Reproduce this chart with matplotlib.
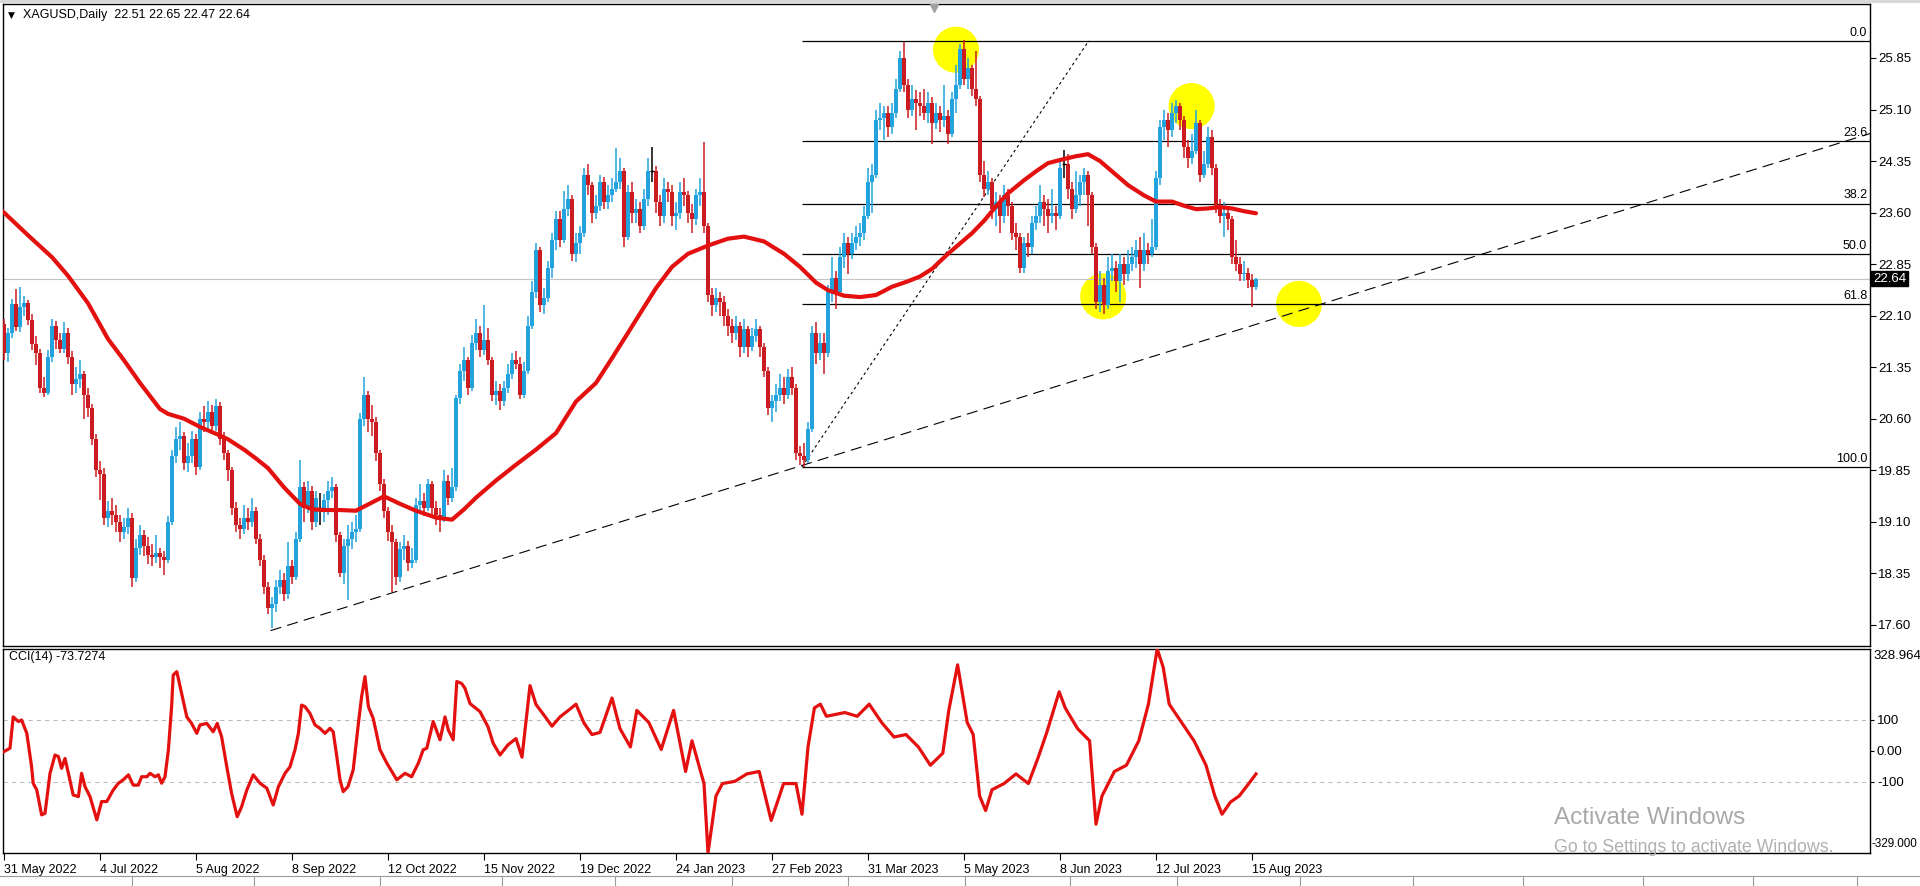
import matplotlib
matplotlib.use("Agg")
import matplotlib.pyplot as plt
import numpy as np
from matplotlib.lines import Line2D
from matplotlib.patches import Rectangle

plt.rcParams['font.family'] = ['Liberation Sans', 'DejaVu Sans']
plt.rcParams['lines.scale_dashes'] = False

# ---------------- data (daily bars, bar 0 = 31 May 2022) ----------------
opens = [
    21.98, 21.55, 21.84, 22.27, 21.93, 22.23, 22.28, 22.03, 21.69, 21.55,
    21.05, 20.98, 21.50, 21.95, 21.75, 21.62, 21.85, 21.50, 21.10, 21.18,
    21.25, 20.95, 20.75, 20.30, 19.85, 19.80, 19.15, 19.25, 19.20, 19.10,
    18.95, 19.02, 19.15, 18.28, 18.72, 18.90, 18.75, 18.62, 18.58, 18.65,
    18.58, 18.55, 19.10, 20.05, 20.30, 20.35, 19.95, 20.05, 20.30, 19.90,
    20.60, 20.55, 20.70, 20.50, 20.78, 20.30, 20.10, 19.85, 19.30, 19.05,
    19.00, 19.15, 19.10, 19.25, 18.85, 18.55, 18.15, 17.85, 17.90, 18.15,
    18.25, 18.05, 18.45, 18.30, 18.85, 19.60, 19.30, 19.55, 19.10, 19.30,
    19.30, 19.42, 19.55, 19.60, 18.90, 18.35, 18.75, 18.85, 18.95, 19.00,
    20.60, 20.95, 20.60, 20.55, 20.10, 19.65, 19.25, 18.95, 18.80, 18.30,
    18.70, 18.75, 18.50, 18.55, 19.35, 19.40, 19.30, 19.65, 19.30, 19.20,
    19.15, 19.70, 19.45, 19.60, 20.90, 21.30, 21.45, 21.05, 21.70, 21.85,
    21.60, 21.75, 21.45, 20.95, 21.00, 20.85, 21.05, 21.25, 21.45, 21.40,
    20.95, 21.30, 21.95, 22.45, 23.05, 22.25, 22.35, 22.80, 23.20, 23.50,
    23.20, 23.65, 23.80, 23.00, 23.15, 23.30, 24.15, 24.00, 23.60, 23.70,
    24.05, 23.75, 23.85, 23.95, 24.05, 24.20, 23.25, 23.90, 23.60, 23.65,
    23.40, 23.80, 24.20, 24.20, 23.75, 23.55, 23.95, 23.90, 23.55, 23.60,
    23.90, 23.85, 23.60, 23.50, 23.85, 23.90, 23.40, 22.40, 22.25, 22.35,
    22.30, 22.10, 21.95, 21.85, 21.95, 21.65, 21.90, 21.65, 21.80, 21.90,
    21.65, 21.30, 20.75, 20.85, 20.95, 21.05, 20.95, 21.20, 21.05, 20.10,
    20.05, 20.00, 20.45, 21.85, 21.55, 21.70, 21.55, 22.45, 22.65, 22.45,
    22.95, 23.15, 23.00, 23.15, 23.25, 23.30, 23.55, 24.05, 24.15, 24.95,
    24.98, 25.05, 24.85, 25.05, 25.40, 25.85, 25.45, 25.10, 25.25, 25.20,
    25.15, 25.05, 25.20, 24.90, 25.05, 24.95, 25.00, 24.75, 25.25, 25.45,
    25.98, 25.55, 25.70, 25.40, 25.25, 24.15, 23.95, 24.05, 23.65, 23.75,
    23.55, 23.85, 23.70, 23.30, 23.25, 22.80, 23.15, 23.10, 23.45, 23.55,
    23.75, 23.65, 23.55, 23.60, 23.55, 24.30, 24.30, 23.95, 23.65, 23.85,
    24.05, 24.15, 23.85, 23.10, 22.30, 22.55, 22.25, 22.75, 22.80, 22.60,
    22.85, 22.70, 22.85, 22.95, 23.05, 22.85, 23.05, 23.00, 23.10, 24.10,
    24.85, 24.95, 24.80, 25.05, 25.15, 24.95, 24.55, 24.40, 24.50, 24.90,
    24.15, 24.30, 24.70, 24.25, 23.70, 23.55, 23.60, 23.50, 22.95, 22.85,
    22.70, 22.72, 22.62, 22.51]

highs = [
    22.05, 21.92, 22.34, 22.49, 22.52, 22.38, 22.33, 22.12, 21.80, 21.62,
    21.20, 21.60, 22.05, 22.02, 21.85, 22.00, 21.92, 21.58, 21.35, 21.45,
    21.30, 21.05, 20.82, 20.38, 19.98, 19.88, 19.40, 19.45, 19.35, 19.20,
    19.15, 19.30, 19.22, 18.85, 19.05, 18.98, 18.88, 18.78, 18.90, 18.72,
    18.68, 19.18, 20.15, 20.48, 20.55, 20.40, 20.25, 20.42, 20.38, 20.70,
    20.78, 20.85, 20.80, 20.88, 20.84, 20.40, 20.15, 19.90, 19.38, 19.15,
    19.35, 19.30, 19.45, 19.32, 18.92, 18.62, 18.22, 18.00, 18.25, 18.40,
    18.35, 18.80, 18.55, 18.95, 20.00, 19.68, 19.70, 19.62, 19.55, 19.52,
    19.50, 19.70, 19.75, 19.65, 18.95, 18.85, 19.05, 19.10, 19.20, 20.68,
    21.21, 21.00, 20.80, 20.62, 20.15, 19.72, 19.32, 19.05, 18.85, 18.80,
    18.90, 18.82, 18.72, 19.45, 19.65, 19.52, 19.72, 19.70, 19.40, 19.30,
    19.85, 19.78, 19.88, 20.95, 21.40, 21.65, 21.50, 21.82, 22.05, 21.95,
    22.26, 21.92, 21.50, 21.15, 21.10, 21.15, 21.40, 21.55, 21.58, 21.50,
    21.42, 22.10, 22.60, 23.15, 23.10, 22.50, 22.90, 23.30, 23.62, 23.62,
    23.92, 24.00, 23.85, 23.30, 23.40, 24.25, 24.30, 24.05, 23.85, 24.15,
    24.12, 24.00, 24.10, 24.54, 24.40, 24.25, 24.00, 24.05, 23.80, 23.75,
    23.95, 24.40, 24.55, 24.28, 23.85, 24.10, 24.05, 24.00, 23.75, 24.05,
    24.10, 23.92, 23.72, 23.95, 24.10, 24.63, 23.45, 22.50, 22.50, 22.45,
    22.38, 22.20, 22.05, 22.10, 22.00, 22.05, 21.95, 21.92, 22.05, 21.95,
    21.70, 21.35, 20.95, 21.10, 21.25, 21.20, 21.32, 21.35, 21.10, 20.20,
    20.25, 20.55, 21.95, 22.00, 21.85, 21.85, 22.55, 22.95, 22.75, 23.10,
    23.30, 23.25, 23.30, 23.40, 23.45, 23.70, 24.25, 24.30, 25.10, 25.20,
    25.15, 25.15, 25.20, 25.55, 25.95, 26.09, 25.55, 25.45, 25.38, 25.35,
    25.40, 25.35, 25.28, 25.20, 25.15, 25.45, 25.10, 25.35, 25.75, 26.05,
    26.11, 25.85, 25.75, 25.95, 25.30, 24.35, 24.20, 24.10, 23.90, 23.85,
    24.00, 23.95, 23.75, 23.45, 23.30, 23.25, 23.30, 23.55, 23.70, 24.00,
    23.85, 23.80, 23.95, 23.70, 24.40, 24.51, 24.45, 24.05, 24.20, 24.15,
    24.25, 24.20, 23.90, 23.15, 22.75, 22.65, 22.95, 23.00, 22.90, 23.00,
    22.95, 23.05, 23.10, 23.20, 23.25, 23.30, 23.15, 23.50, 24.20, 24.95,
    25.10, 25.05, 25.20, 25.24, 25.20, 25.00, 24.65, 24.75, 25.10, 24.95,
    24.50, 24.85, 24.80, 24.30, 23.80, 23.75, 23.65, 23.55, 23.20, 22.95,
    22.90, 22.80, 22.70, 22.65]

lows = [
    21.45, 21.42, 21.78, 21.88, 21.86, 22.10, 21.96, 21.60, 21.38, 20.98,
    20.92, 20.95, 21.42, 21.62, 21.55, 21.55, 21.40, 20.95, 20.98, 21.05,
    20.60, 20.62, 20.22, 19.75, 19.42, 19.05, 19.02, 19.05, 18.95, 18.80,
    18.85, 18.92, 18.15, 18.22, 18.62, 18.60, 18.48, 18.45, 18.50, 18.42,
    18.32, 18.50, 19.05, 19.95, 20.15, 19.85, 19.82, 19.95, 19.78, 19.85,
    20.40, 20.45, 20.38, 20.42, 20.22, 20.00, 19.70, 19.20, 18.95, 18.85,
    18.92, 18.98, 19.02, 18.78, 18.45, 18.05, 17.75, 17.56, 17.78, 18.05,
    17.95, 17.98, 18.20, 18.25, 18.80, 19.10, 19.22, 18.98, 19.02, 19.05,
    19.10, 19.20, 19.45, 18.80, 18.30, 18.20, 17.96, 18.70, 18.80, 18.95,
    20.50, 20.40, 20.35, 19.98, 19.55, 19.15, 18.82, 18.08, 18.18, 18.22,
    18.55, 18.38, 18.42, 18.50, 19.22, 19.18, 19.25, 19.20, 19.05, 18.95,
    19.10, 19.35, 19.38, 19.55, 20.82, 21.15, 20.95, 21.00, 21.60, 21.50,
    21.52, 21.38, 20.85, 20.80, 20.72, 20.78, 20.98, 21.18, 21.32, 20.88,
    20.90, 21.25, 21.90, 22.35, 22.15, 22.12, 22.30, 22.65, 23.05, 23.10,
    23.15, 23.55, 22.90, 22.88, 23.00, 23.25, 23.85, 23.45, 23.50, 23.62,
    23.65, 23.65, 23.75, 23.90, 23.95, 23.10, 23.20, 23.45, 23.45, 23.30,
    23.35, 23.70, 24.05, 23.60, 23.40, 23.45, 23.75, 23.40, 23.35, 23.50,
    23.70, 23.45, 23.30, 23.42, 23.70, 23.30, 22.30, 22.10, 22.15, 22.10,
    21.95, 21.80, 21.70, 21.75, 21.50, 21.55, 21.50, 21.58, 21.72, 21.50,
    21.20, 20.65, 20.55, 20.70, 20.85, 20.82, 20.88, 20.95, 20.00, 19.92,
    19.90, 19.95, 20.40, 21.40, 21.45, 21.25, 21.50, 22.30, 22.20, 22.40,
    22.80, 22.70, 22.92, 23.05, 23.12, 23.20, 23.50, 23.60, 24.10, 24.80,
    24.65, 24.70, 24.75, 24.98, 25.35, 25.35, 24.98, 25.00, 24.80, 25.00,
    24.95, 24.90, 24.60, 24.82, 24.78, 24.85, 24.60, 24.70, 25.05, 25.40,
    25.45, 25.40, 25.30, 25.15, 24.05, 23.82, 23.85, 23.50, 23.40, 23.30,
    23.45, 23.55, 23.20, 23.05, 22.72, 22.72, 22.95, 23.00, 23.35, 23.45,
    23.40, 23.30, 23.45, 23.35, 23.50, 24.10, 23.80, 23.50, 23.60, 23.70,
    23.85, 23.40, 23.00, 22.20, 22.15, 22.13, 22.20, 22.60, 22.45, 22.30,
    22.55, 22.60, 22.75, 22.80, 22.50, 22.75, 22.85, 22.95, 23.05, 24.00,
    24.65, 24.55, 24.70, 24.90, 24.80, 24.40, 24.25, 24.30, 24.45, 24.05,
    24.10, 24.25, 24.15, 23.60, 23.45, 23.25, 23.35, 22.85, 22.75, 22.60,
    22.60, 22.50, 22.22, 22.47]

closes = [
    21.55, 21.84, 22.27, 21.93, 22.23, 22.28, 22.03, 21.69, 21.55, 21.05,
    20.98, 21.50, 21.95, 21.75, 21.62, 21.85, 21.50, 21.10, 21.18, 21.25,
    20.95, 20.75, 20.30, 19.85, 19.80, 19.15, 19.25, 19.20, 19.10, 18.95,
    19.02, 19.15, 18.28, 18.72, 18.90, 18.75, 18.62, 18.58, 18.65, 18.58,
    18.55, 19.10, 20.05, 20.30, 20.35, 19.95, 20.05, 20.30, 19.90, 20.60,
    20.55, 20.70, 20.50, 20.78, 20.30, 20.10, 19.85, 19.30, 19.05, 19.00,
    19.15, 19.10, 19.25, 18.85, 18.55, 18.15, 17.85, 17.90, 18.15, 18.25,
    18.05, 18.45, 18.30, 18.85, 19.60, 19.30, 19.55, 19.10, 19.45, 19.30,
    19.42, 19.55, 19.60, 18.90, 18.35, 18.75, 18.85, 18.95, 19.00, 20.60,
    20.95, 20.60, 20.55, 20.10, 19.65, 19.25, 18.95, 18.80, 18.30, 18.70,
    18.75, 18.50, 18.55, 19.35, 19.40, 19.30, 19.65, 19.30, 19.20, 19.15,
    19.70, 19.45, 19.60, 20.90, 21.30, 21.45, 21.05, 21.70, 21.85, 21.60,
    21.75, 21.45, 20.95, 21.00, 20.85, 21.05, 21.25, 21.45, 21.40, 20.95,
    21.30, 21.95, 22.45, 23.05, 22.25, 22.35, 22.80, 23.20, 23.50, 23.20,
    23.65, 23.80, 23.00, 23.15, 23.30, 24.15, 24.00, 23.60, 23.70, 24.05,
    23.75, 23.85, 23.95, 24.05, 24.20, 23.25, 23.90, 23.60, 23.65, 23.40,
    23.80, 24.20, 24.20, 23.75, 23.55, 23.95, 23.90, 23.55, 23.60, 23.90,
    23.85, 23.60, 23.50, 23.85, 23.90, 23.40, 22.40, 22.25, 22.35, 22.30,
    22.10, 21.95, 21.85, 21.95, 21.65, 21.90, 21.65, 21.80, 21.90, 21.65,
    21.30, 20.75, 20.85, 20.95, 21.05, 20.95, 21.20, 21.05, 20.10, 20.05,
    20.00, 20.45, 21.85, 21.55, 21.70, 21.55, 22.45, 22.65, 22.45, 22.95,
    23.15, 23.00, 23.15, 23.25, 23.30, 23.55, 24.05, 24.15, 24.95, 24.98,
    25.05, 24.85, 25.05, 25.40, 25.85, 25.45, 25.10, 25.25, 25.20, 25.15,
    25.05, 25.20, 24.90, 25.05, 24.95, 25.00, 24.75, 25.25, 25.45, 25.98,
    25.55, 25.70, 25.40, 25.25, 24.15, 23.95, 24.05, 23.65, 23.75, 23.55,
    23.85, 23.70, 23.30, 23.25, 22.80, 23.15, 23.10, 23.45, 23.55, 23.75,
    23.65, 23.55, 23.60, 23.55, 24.25, 24.30, 23.95, 23.65, 23.85, 24.05,
    24.15, 23.85, 23.10, 22.30, 22.55, 22.25, 22.75, 22.80, 22.60, 22.85,
    22.70, 22.85, 22.95, 23.05, 22.85, 23.05, 23.00, 23.10, 24.10, 24.85,
    24.95, 24.80, 25.05, 25.15, 24.95, 24.55, 24.40, 24.50, 24.90, 24.15,
    24.30, 24.70, 24.25, 23.70, 23.55, 23.60, 23.50, 22.95, 22.85, 22.70,
    22.72, 22.62, 22.51, 22.64]

date_labels = ['31 May 2022', '4 Jul 2022', '5 Aug 2022', '8 Sep 2022', '12 Oct 2022',
               '15 Nov 2022', '19 Dec 2022', '24 Jan 2023', '27 Feb 2023', '31 Mar 2023',
               '5 May 2023', '8 Jun 2023', '12 Jul 2023', '15 Aug 2023']
label_every = 24

# moving average (red line), read at sample bars
ma_bars = [-1, 0, 6, 12, 16, 21, 26, 30, 34, 39, 41, 45, 49, 53, 56, 60, 63, 66, 70, 74,
           77, 80, 84, 88, 92, 95, 99, 103, 108, 112, 115, 118, 123, 128, 133, 138, 143, 148,
           152, 156, 159, 163, 167, 171, 176, 181, 185, 190, 195, 199, 203, 206, 210, 214,
           218, 222, 226, 229, 232, 236, 239, 242, 245, 248, 251, 255, 258, 261, 265, 268,
           271, 274, 277, 281, 285, 288, 292, 295, 298, 301, 304, 307, 310, 313]
ma_vals = [23.65, 23.60, 23.27, 22.95, 22.68, 22.28, 21.76, 21.45, 21.12, 20.74, 20.67, 20.60,
           20.48, 20.38, 20.30, 20.15, 20.02, 19.88, 19.60, 19.36, 19.28, 19.27, 19.27, 19.26,
           19.38, 19.47, 19.36, 19.26, 19.16, 19.13, 19.28, 19.45, 19.70, 19.93, 20.15, 20.39,
           20.85, 21.12, 21.48, 21.85, 22.13, 22.50, 22.81, 23.00, 23.12, 23.22, 23.25, 23.18,
           23.00, 22.81, 22.58, 22.47, 22.39, 22.37, 22.40, 22.52, 22.60, 22.67, 22.78, 23.00,
           23.15, 23.30, 23.48, 23.69, 23.88, 24.07, 24.20, 24.32, 24.38, 24.42, 24.45, 24.35,
           24.20, 24.00, 23.85, 23.76, 23.76, 23.70, 23.65, 23.66, 23.68, 23.66, 23.62, 23.59]

# CCI(14), read at sample bars
cci_bars = [0, 1.5, 2.3, 3.6, 4.4, 5.7, 6.9, 7.3, 8.2, 9.4, 10.25, 11.5, 12.75, 13.6, 14.4,
            15.25, 16.1, 17.3, 18.6, 19.4, 20.25, 21.5, 23.2, 24.4, 25.7, 27.3, 28.6, 29.8,
            31.1, 32.3, 33.6, 34.4, 35.7, 36.5, 37.75, 38.6, 39.4, 40.25, 41.1, 41.9, 42.3,
            43.2, 44.4, 45.7, 46.9, 48.2, 49, 50.7, 52.3, 53.3, 54.4, 55.7, 56.9, 58.3, 59.4,
            60.7, 62.3, 64, 65.7, 67.3, 68.6, 70.25, 71.5, 72.75, 73.6, 74.4, 75.25, 76.5,
            77.75, 79, 80.25, 81.5, 82.3, 83.2, 84, 84.8, 86, 87.3, 88.6, 89.4, 90.25, 91.1,
            92.3, 94, 95.7, 98.2, 100.25, 101.9, 103.6, 104.8, 105.7, 107.3, 109, 110.25,
            111.1, 112.3, 113.2, 114.4, 115.25, 116.5, 119, 121, 122.3, 124,
            126, 128, 129.5, 131.5, 133, 135.2, 137, 139, 141, 143, 145, 147, 149, 152, 154,
            156.6, 158.2, 161.2, 164.3, 167.4, 170.4, 172, 175, 176, 178, 179.6, 182.7, 185.7,
            188.8, 191.8, 194.9, 198, 199.5, 201, 202.6, 204.1, 205.6, 210.2, 213.3, 216.3,
            219.4, 222.5, 225.5, 228.6, 231.6, 234.7, 236.2, 238.4, 240.8, 242.3, 243.9, 245.4,
            247, 250, 253, 256.1, 258.6, 260.7, 263.8, 265.3, 268.4, 271.4, 273, 274.5, 277.6,
            280.6, 283.7, 286.1, 288.3, 289.8, 291.3, 294.4, 297.5, 300.5, 302.7, 304.5, 306.6,
            308.8, 311.2, 313]
cci_vals = [-2, 9, 110, 95, 100, 57, -51, -104, -126, -206, -201, -72, -13, -18, -56,
            -24, -72, -142, -147, -72, -115, -147, -222, -163, -163, -126, -104, -93,
            -77, -110, -110, -83, -83, -72, -83, -77, -104, -83, 4, 143, 245,
            256, 186, 110, 89, 57, 84, 89, 62, 89, 46, -51, -137, -212, -180,
            -126, -77, -104, -120, -174, -115, -72, -51, 4, 57, 148, 143, 121,
            84, 73, 57, 73, 62, -18, -93, -131, -115, -61, 89, 175, 240, 143,
            105, 4, -39, -93, -72, -83, -39, 4, 9, 95, 36, 110,
            67, 36, 224, 218, 202, 153, 127, 78, 25, -13,
            20, 40, -20, 211, 150, 112, 80, 110, 130, 151, 90, 53, 60, 171, 72,
            13, 131, 92, 5, 131, -66, 33, -105, -329, -145, -105, -98, -74,
            -66, -224, -105, -105, -204, 13, 139, 151, 112, 124, 112, 151,
            92, 45, 53, 13, -46, -7, 131, 278, 92, 53, -145, -192,
            -125, -105, -74, -105, -19, 60, 191, 139, 72, 33, -236, -145, -66,
            -46, 33, 151, 328.96, 270, 151, 92, 33, -46, -145, -204, -165,
            -145, -105, -74]

# Fibonacci retracement and trend lines
fib_high, fib_low = 26.10, 19.90
fib_anchor_bars = [199.5, 271.2]
fib_levels = [0.0, 23.6, 38.2, 50.0, 61.8, 100.0]
trend_bars = [66.65, 466.5]
trend_prices = [17.515, 24.75]

# highlighted swing points (yellow circles)
circle_bars = [238.0, 296.9, 274.8, 323.75]
circle_prices = [25.97, 25.15, 22.38, 22.27]

price_ticks = [25.85, 25.10, 24.35, 23.60, 22.85, 22.10, 21.35, 20.60, 19.85, 19.10, 18.35, 17.60]
bid_price = 22.64
header = 'XAGUSD,Daily  22.51 22.65 22.47 22.64'
cci_label = 'CCI(14) -73.7274'
cci_max, cci_min = 328.964, -329.000

# ---------------- figure ----------------
W, H = 1920, 886
fig = plt.figure(figsize=(W / 100, H / 100), dpi=100)
fig.patch.set_facecolor('white')


def rect(x0, y0, x1, y1):
    return [x0 / W, 1 - y1 / H, (x1 - x0) / W, (y1 - y0) / H]


ax = fig.add_axes(rect(3, 4, 1870, 646))
ax2 = fig.add_axes(rect(3, 649, 1870, 853))

BULL = '#22a3dd'
BEAR = '#cc1b20'
DOJI = '#000000'
MA_RED = '#e3100f'

x = np.arange(len(closes))
o = np.array(opens); h = np.array(highs); l = np.array(lows); c = np.array(closes)
cols = np.where(c > o, BULL, np.where(c < o, BEAR, DOJI))

ax.set_xlim(-0.25, 466.5)
ax.set_ylim(17.291, 26.636)

# circles behind everything
ax.scatter(circle_bars, circle_prices, s=1100, color='#ffff00', edgecolors='none', zorder=0.5)

# current price line
ax.axhline(bid_price, color='#c4c4c4', lw=0.8, zorder=1)

# fibonacci levels
rng = fib_high - fib_low
for lv in fib_levels:
    p = fib_high - lv / 100.0 * rng
    ax.plot([fib_anchor_bars[0], 466.5], [p, p], color='black', lw=0.9, zorder=1.5,
            solid_capstyle='butt')
    ax.text(0.9985, p + 0.03, f'{lv:.1f}', transform=ax.get_yaxis_transform(),
            ha='right', va='bottom', fontsize=9, color='black', zorder=5)
ax.plot(fib_anchor_bars, [fib_low, fib_high], color='black', lw=0.8, dashes=(2.0, 2.2), zorder=1.5)

# trend line
ax.plot(trend_bars, trend_prices, color='black', lw=0.8, dashes=(8, 4.5), zorder=1.6)

# candles
ax.vlines(x, l, h, colors=cols, lw=1.1, zorder=3)
ax.bar(x, np.abs(c - o), bottom=np.minimum(o, c), width=0.82, color=cols, lw=0, zorder=3.1)
dj = c == o
ax.hlines(c[dj], x[dj] - 0.5, x[dj] + 0.5, colors=DOJI, lw=1.0, zorder=3.2)

# moving average
ax.plot(ma_bars, ma_vals, color=MA_RED, lw=3.0, solid_capstyle='round', solid_joinstyle='round', zorder=4)

# axes styling
for a in (ax, ax2):
    for s in a.spines.values():
        s.set_color('black')
        s.set_linewidth(1.0)
ax.yaxis.tick_right()
ax.set_yticks(price_ticks)
ax.set_yticklabels([f'{v:.2f}' for v in price_ticks])
ax.tick_params(axis='y', direction='out', length=4, width=0.8, pad=2, labelsize=9.5)
ax.set_xticks([])

# bid label
ax.text(1.0 + 3 / 1867, bid_price, f'{bid_price:.2f}', transform=ax.get_yaxis_transform(),
        ha='left', va='center', fontsize=9.5, color='white', zorder=6,
        bbox=dict(boxstyle='square,pad=0.12', fc='black', ec='black'), clip_on=False)

# shift marker at top
ax.plot([0.4987], [0.993], marker='v', markersize=6, color='#a0a0a0', transform=ax.transAxes,
        clip_on=False, zorder=6)

# ---------------- CCI panel ----------------
ax2.set_xlim(-0.25, 466.5)
ax2.set_ylim(cci_min, cci_max)
for lvl in (100, -100):
    ax2.axhline(lvl, color='#b8b8b8', lw=0.7, dashes=(3, 3), zorder=1)
ax2.plot(cci_bars, cci_vals, color=MA_RED, lw=2.3, solid_joinstyle='round', zorder=3)
ax2.yaxis.tick_right()
ax2.set_yticks([100, 0, -100])
ax2.set_yticklabels(['100', '0.00', '-100'])
ax2.tick_params(axis='y', direction='out', length=3, width=0.8, pad=2, labelsize=9.5)
ax2.text(1.0 + 3 / 1867, 0.965, f'{cci_max:.3f}', transform=ax2.transAxes, ha='left',
         va='center', fontsize=9.5, clip_on=False)
ax2.text(1.0 + 2 / 1867, 0.045, f'{cci_min:.3f}', transform=ax2.transAxes, ha='left',
         va='center', fontsize=8.4, clip_on=False)
ax2.text(0.0034, 0.962, cci_label, transform=ax2.transAxes, ha='left', va='center', fontsize=9)

tick_pos = [i * label_every for i in range(len(date_labels))]
ax2.set_xticks(tick_pos)
ax2.set_xticklabels(date_labels)
for t in ax2.get_xticklabels():
    t.set_ha('left')
ax2.tick_params(axis='x', direction='out', length=5, width=0.8, pad=3, labelsize=9)

# header
fig.text(8 / W, 1 - 15 / H, '\u25BC', fontsize=6.5, ha='left', va='center', family='DejaVu Sans')
fig.text(23 / W, 1 - 15 / H, header, fontsize=9, ha='left', va='center')

# window decorations
fig.add_artist(Rectangle((0, 1 - 3 / H), 1, 3 / H, transform=fig.transFigure, fc='#d8d8d8', ec='none'))
fig.add_artist(Line2D([0, 1], [1 - 876 / H, 1 - 876 / H], transform=fig.transFigure, color='#9a9a9a', lw=0.8))
for tx in [132, 254, 380, 502, 615, 732, 848, 965, 1070, 1177, 1300, 1413, 1523, 1643, 1753, 1857]:
    fig.add_artist(Line2D([tx / W, tx / W], [0, 1 - 876 / H], transform=fig.transFigure, color='#9a9a9a', lw=0.8))

# OS watermark
fig.text(1554 / W, 1 - 818 / H, 'Activate Windows', fontsize=17.5, color='#a9a9a9', ha='left', va='center')
fig.text(1554 / W, 1 - 847 / H, 'Go to Settings to activate Windows.', fontsize=12.8, color='#b0b0b0',
         ha='left', va='center')

fig.savefig('out.png', dpi=100, facecolor='white')
